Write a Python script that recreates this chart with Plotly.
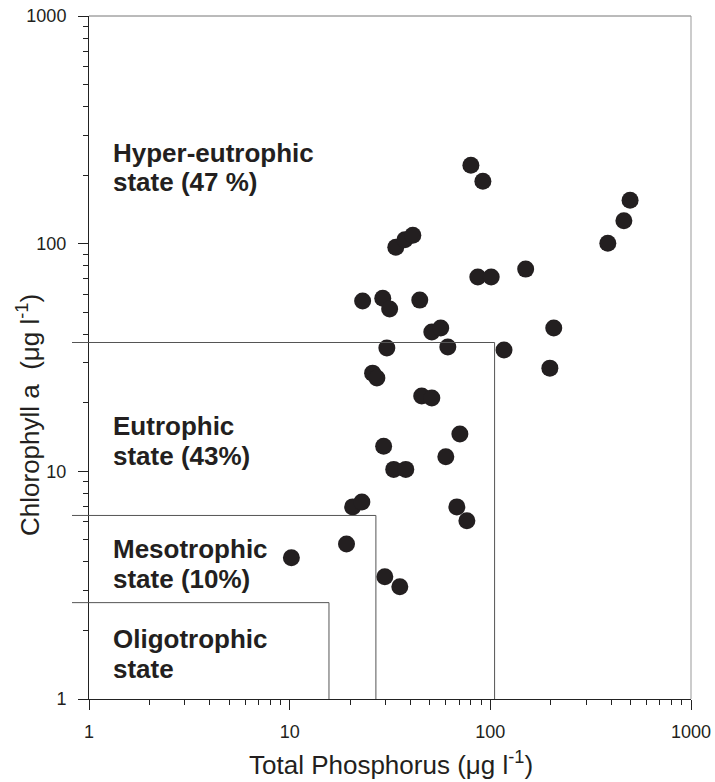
import plotly.graph_objects as go

# ---- data ----
TP = [80.0, 91.8, 33.8, 37.5, 41.1, 150, 86.6, 101, 23.1, 29.1, 31.5, 44.5,
      51.1, 56.6, 30.5, 61.4, 117, 25.9, 27.2, 45.5, 51.1, 70.5, 29.4, 60.0,
      33.0, 37.9, 20.6, 22.9, 68.1, 76.4, 19.2, 10.2, 29.8, 35.4, 497, 463,
      385, 207, 198]
CHL = [221, 188, 96.5, 104, 109, 77.3, 71.3, 71.3, 56.0, 57.6, 51.6, 56.5,
       40.9, 42.6, 34.8, 35.2, 34.1, 27.0, 25.7, 21.4, 21.0, 14.6, 12.9, 11.6,
       10.2, 10.2, 6.98, 7.34, 6.98, 6.06, 4.80, 4.17, 3.44, 3.11, 155, 126,
       100.5, 42.6, 28.4]

# trophic state boundaries (TP, Chl a) for oligo-, meso-, eutrophic boxes
BOUND_TP = [15.7, 26.9, 105]
BOUND_CHL = [2.65, 6.4, 36.8]

TICK_VALUES = [1, 10, 100, 1000]
TICK_LABELS = ["1", "10", "100", "1000"]

STATE_LABELS = [
    ("Hyper-eutrophic", "state (47 %)"),
    ("Eutrophic", "state (43%)"),
    ("Mesotrophic", "state (10%)"),
    ("Oligotrophic", "state"),
]

FONT = "Liberation Sans, Arial, Helvetica, sans-serif"
W, H = 715, 782
ML, MR, MT, MB = 89, 24, 16, 83
PW, PH = W - ML - MR, H - MT - MB

def px_to_paper_y(py):
    return (H - MB - py) / PH

def px_to_paper_x(px):
    return (px - ML) / PW

fig = go.Figure()
fig.add_trace(go.Scatter(
    x=TP, y=CHL, mode="markers",
    marker=dict(size=17, color="#231f20", line=dict(width=0)),
    showlegend=False, cliponaxis=False,
))

shapes = []
line_style = dict(color="#555555", width=1)
for tp, chl in zip(BOUND_TP, BOUND_CHL):
    shapes.append(dict(type="line", xref="x", yref="y", x0=1, x1=tp, y0=chl, y1=chl, line=line_style))
    shapes.append(dict(type="line", xref="x", yref="y", x0=tp, x1=tp, y0=1, y1=chl, line=line_style))
    shapes.append(dict(type="line", xref="paper", yref="y", x0=px_to_paper_x(72), x1=0, y0=chl, y1=chl, line=line_style))
# top and right frame
shapes.append(dict(type="line", xref="paper", yref="paper", x0=0, x1=1, y0=1, y1=1, line=dict(color="#777777", width=1)))
shapes.append(dict(type="line", xref="paper", yref="paper", x0=1, x1=1, y0=0, y1=1, line=dict(color="#999999", width=1)))

annotations = []
label_baselines = [(162, 191), (435, 465), (558, 588), (648, 678)]
LFS = 26
for (l1, l2), (b1, b2) in zip(STATE_LABELS, label_baselines):
    for txt, b in ((l1, b1), (l2, b2)):
        annotations.append(dict(
            text="<b>%s</b>" % txt, xref="paper", yref="paper",
            x=px_to_paper_x(111), y=px_to_paper_y(b - 0.35 * LFS),
            xanchor="left", yanchor="middle", showarrow=False,
            font=dict(family=FONT, size=LFS, color="#231f20"),
        ))

# axis titles
annotations.append(dict(
    text="Total Phosphorus (μg l<sup>-1</sup>)", xref="paper", yref="paper",
    x=px_to_paper_x(391), y=px_to_paper_y(773 - 0.35 * 26),
    xanchor="center", yanchor="middle", showarrow=False,
    font=dict(family=FONT, size=26, color="#231f20"),
))
annotations.append(dict(
    text="Chlorophyll a \u00a0(μg l<sup>-1</sup>)", xref="paper", yref="paper",
    x=px_to_paper_x(28), y=px_to_paper_y(415), textangle=-90,
    xanchor="center", yanchor="middle", showarrow=False,
    font=dict(family=FONT, size=26, color="#231f20"),
))

axis_common = dict(
    type="log", range=[0, 3], showgrid=False, zeroline=False,
    showline=True, linecolor="#222222", linewidth=1, mirror=False,
    ticks="outside", ticklen=10, tickwidth=1, tickcolor="#222222",
    tickvals=TICK_VALUES, ticktext=TICK_LABELS,
    tickfont=dict(family=FONT, size=18, color="#231f20"),
    minor=dict(ticks="outside", ticklen=5, tickwidth=1, tickcolor="#222222",
               dtick="D1", showgrid=False),
)

fig.update_layout(
    width=W, height=H,
    margin=dict(l=ML, r=MR, t=MT, b=MB, autoexpand=False),
    paper_bgcolor="white", plot_bgcolor="white",
    xaxis=dict(**axis_common, ticklabelstandoff=6),
    yaxis=dict(**axis_common, ticklabelstandoff=8),
    shapes=shapes, annotations=annotations,
    showlegend=False,
)

fig.write_html("out.html")
